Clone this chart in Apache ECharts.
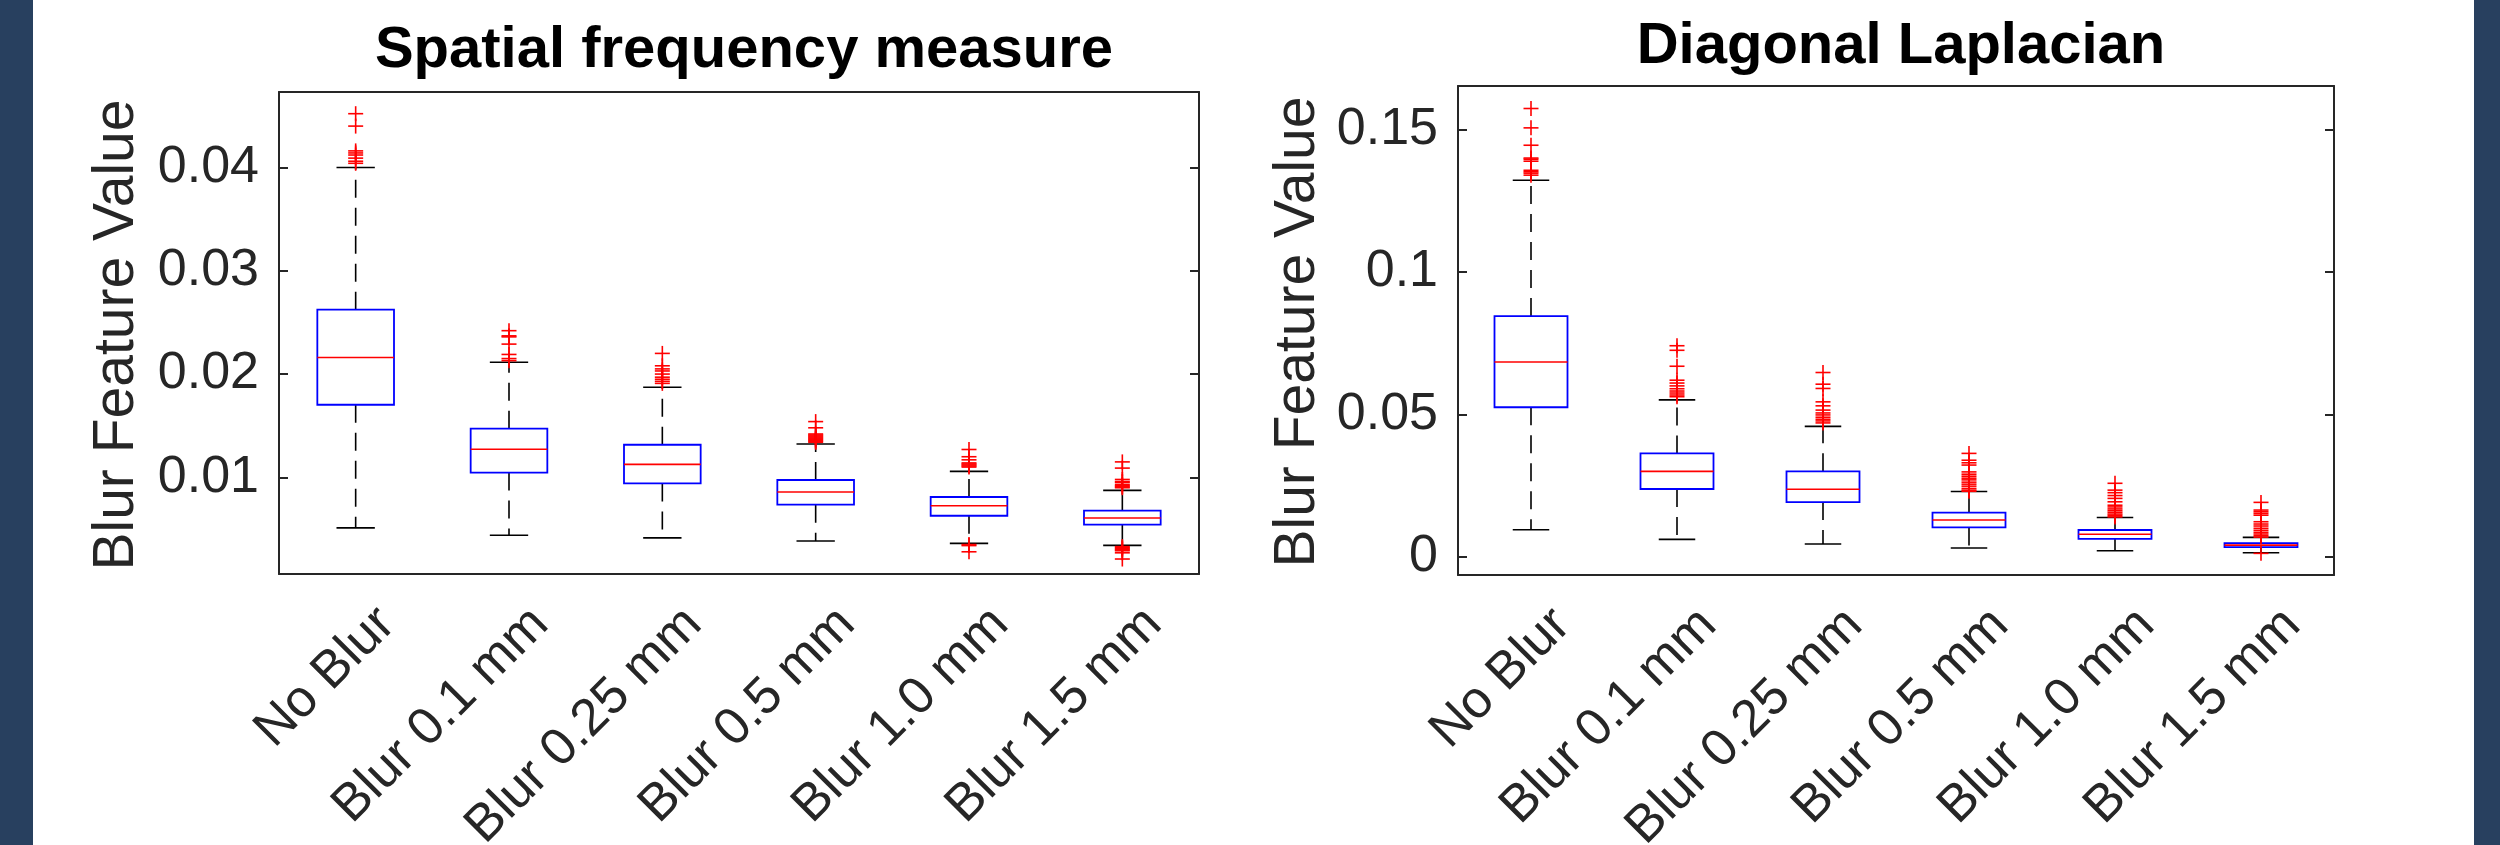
<!DOCTYPE html>
<html>
<head>
<meta charset="utf-8">
<title>Blur feature boxplots</title>
<style>
  html, body { margin: 0; padding: 0; background: #fff; }
  #main { width: 2500px; height: 845px; }
</style>
</head>
<body>
<div id="main"></div>
<script src="https://cdn.jsdelivr.net/npm/echarts@6/dist/echarts.min.js"></script>
<script>
var categories = ['No Blur', 'Blur 0.1 mm', 'Blur 0.25 mm', 'Blur 0.5 mm', 'Blur 1.0 mm', 'Blur 1.5 mm'];

// Spatial frequency measure: whisker ends, quartiles, medians
var sfmLow    = [0.00511, 0.00440, 0.00415, 0.00384, 0.00361, 0.00342];
var sfmQ1     = [0.01703, 0.01047, 0.00942, 0.00736, 0.00629, 0.00542];
var sfmMedian = [0.02161, 0.01272, 0.01126, 0.00859, 0.00726, 0.00607];
var sfmQ3     = [0.02623, 0.01472, 0.01316, 0.00975, 0.00810, 0.00678];
var sfmHigh   = [0.04000, 0.02114, 0.01873, 0.01323, 0.01058, 0.00874];
var sfmOutliers = [
  [0.0452, 0.0440, 0.0416, 0.0414, 0.0412, 0.0409, 0.0406, 0.0404],
  [0.0242, 0.0237, 0.0236, 0.0229, 0.0219, 0.0215, 0.0213],
  [0.0220, 0.0208, 0.0205, 0.0203, 0.0200, 0.0197, 0.0195, 0.0193, 0.0191],
  [0.0154, 0.0148, 0.0142, 0.0141, 0.0140, 0.0139, 0.0138, 0.0137, 0.0136, 0.0135, 0.0134],
  [0.0127, 0.0120, 0.0117, 0.0114, 0.0113, 0.0112, 0.0111, 0.0110, 0.0035, 0.0034, 0.0028],
  [0.0115, 0.0109, 0.0098, 0.0096, 0.0095, 0.0093, 0.0092, 0.0091, 0.0090,
   0.0033, 0.0032, 0.0031, 0.0030, 0.0029, 0.0027, 0.0021]
];

// Diagonal Laplacian
var dlLow    = [0.0095, 0.0061, 0.0045, 0.0031, 0.0021, 0.0014];
var dlQ1     = [0.0525, 0.0238, 0.0192, 0.0103, 0.0063, 0.0034];
var dlMedian = [0.0684, 0.0300, 0.0237, 0.0129, 0.0079, 0.0041];
var dlQ3     = [0.0845, 0.0363, 0.0300, 0.0155, 0.0094, 0.0048];
var dlHigh   = [0.1322, 0.0551, 0.0458, 0.0229, 0.0138, 0.0068];
var dlOutliers = [
  [0.1574, 0.1506, 0.1445, 0.1400, 0.1396, 0.1389, 0.1357, 0.1352, 0.1347, 0.1340],
  [0.0741, 0.0725, 0.0669, 0.0620, 0.0610, 0.0600, 0.0590, 0.0582, 0.0575, 0.0568, 0.0562],
  [0.0647, 0.0606, 0.0591, 0.0544, 0.0530, 0.0515, 0.0505, 0.0498, 0.0490, 0.0483, 0.0477, 0.0470],
  [0.0363, 0.0339, 0.0330, 0.0322, 0.0298, 0.0290, 0.0283, 0.0276, 0.0270, 0.0262, 0.0255,
   0.0248, 0.0240, 0.0234, 0.0230],
  [0.0258, 0.0234, 0.0225, 0.0215, 0.0205, 0.0193, 0.0181, 0.0175, 0.0168, 0.0162, 0.0156,
   0.0150, 0.0145, 0.0140],
  [0.0191, 0.0164, 0.0158, 0.0152, 0.0146, 0.0123, 0.0115, 0.0108, 0.0100, 0.0093, 0.0086,
   0.0080, 0.0074, 0.0069, 0.0012]
];

var FONT = "'Liberation Sans', Arial, Helvetica, sans-serif";
var AXIS_COLOR = '#262626';

function boxRows(low, q1, med, q3, high) {
  return categories.map(function (c, i) { return [i, low[i], q1[i], med[i], q3[i], high[i]]; });
}

function outlierRows(list) {
  var rows = [];
  list.forEach(function (vals, i) {
    vals.forEach(function (v) { rows.push([i, v]); });
  });
  return rows;
}

// matlab style box: blue box, red median, dashed black whiskers
function renderBox(params, api) {
  var i = api.value(0);
  var pLow = api.coord([i, api.value(1)]);
  var pQ1 = api.coord([i, api.value(2)]);
  var pMed = api.coord([i, api.value(3)]);
  var pQ3 = api.coord([i, api.value(4)]);
  var pHigh = api.coord([i, api.value(5)]);
  var band = api.size([1, 0])[0];
  var cx = pMed[0];
  var half = band * 0.25;
  var cap = band * 0.125;
  var dash = { stroke: '#000', lineWidth: 1.6, lineDash: [18, 10] };
  var solid = { stroke: '#000', lineWidth: 1.6 };
  return {
    type: 'group',
    children: [
      { type: 'line', shape: { x1: cx, y1: pQ3[1], x2: cx, y2: pHigh[1] }, style: dash },
      { type: 'line', shape: { x1: cx, y1: pQ1[1], x2: cx, y2: pLow[1] }, style: dash },
      { type: 'line', shape: { x1: cx - cap, y1: pHigh[1], x2: cx + cap, y2: pHigh[1] }, style: solid },
      { type: 'line', shape: { x1: cx - cap, y1: pLow[1], x2: cx + cap, y2: pLow[1] }, style: solid },
      { type: 'rect', shape: { x: cx - half, y: pQ3[1], width: half * 2, height: pQ1[1] - pQ3[1] },
        style: { fill: 'none', stroke: '#0000ff', lineWidth: 1.8 } },
      { type: 'line', shape: { x1: cx - half, y1: pMed[1], x2: cx + half, y2: pMed[1] },
        style: { stroke: '#ff0000', lineWidth: 1.6 } }
    ]
  };
}

// red "+" markers
function renderPlus(params, api) {
  var p = api.coord([api.value(0), api.value(1)]);
  var r = 7.5;
  var st = { stroke: '#ff0000', lineWidth: 1.6 };
  return {
    type: 'group',
    children: [
      { type: 'line', shape: { x1: p[0] - r, y1: p[1], x2: p[0] + r, y2: p[1] }, style: st },
      { type: 'line', shape: { x1: p[0], y1: p[1] - r, x2: p[0], y2: p[1] + r }, style: st }
    ]
  };
}

function tickFmt(v) { return String(parseFloat(v.toFixed(4))); }

function xAxes(grid) {
  return [
    {
      type: 'category', data: categories, gridIndex: grid, position: 'bottom',
      axisLine: { onZero: false, lineStyle: { color: AXIS_COLOR, width: 2 } },
      axisTick: { inside: true, length: 9, alignWithLabel: true, lineStyle: { color: AXIS_COLOR, width: 2 } },
      axisLabel: {
        interval: 0, rotate: 45, margin: 11, align: 'right', verticalAlign: 'top', lineHeight: 88,
        fontFamily: FONT, fontSize: 52, color: AXIS_COLOR
      },
      splitLine: { show: false }
    },
    {
      type: 'category', data: categories, gridIndex: grid, position: 'top',
      axisLine: { onZero: false, lineStyle: { color: AXIS_COLOR, width: 2 } },
      axisTick: { inside: true, length: 9, alignWithLabel: true, lineStyle: { color: AXIS_COLOR, width: 2 } },
      axisLabel: { show: false },
      splitLine: { show: false }
    }
  ];
}

function yAxes(grid, min, max) {
  return [
    {
      type: 'value', gridIndex: grid, position: 'left', min: min, max: max, splitNumber: 4,
      axisLine: { show: true, onZero: false, lineStyle: { color: AXIS_COLOR, width: 2 } },
      axisTick: { show: true, inside: true, length: 9, lineStyle: { color: AXIS_COLOR, width: 2 } },
      axisLabel: {
        margin: 20, fontFamily: FONT, fontSize: 52, color: AXIS_COLOR,
        showMinLabel: false, showMaxLabel: false, formatter: tickFmt
      },
      splitLine: { show: false }
    },
    {
      type: 'value', gridIndex: grid, position: 'right', min: min, max: max, splitNumber: 4,
      axisLine: { show: true, onZero: false, lineStyle: { color: AXIS_COLOR, width: 2 } },
      axisTick: { show: true, inside: true, length: 9, lineStyle: { color: AXIS_COLOR, width: 2 } },
      axisLabel: { show: false },
      splitLine: { show: false }
    }
  ];
}

var chart = echarts.init(document.getElementById('main'));

var option = {
  backgroundColor: '#ffffff',
  animation: false,
  title: [
    {
      text: 'Spatial frequency measure', left: 739, top: 17, textAlign: 'center',
      textStyle: { fontFamily: FONT, fontSize: 58, fontWeight: 'bold', color: '#000' }
    },
    {
      text: 'Diagonal Laplacian', left: 1896, top: 13, textAlign: 'center',
      textStyle: { fontFamily: FONT, fontSize: 58, fontWeight: 'bold', color: '#000' }
    }
  ],
  // fixed plot boxes, no automatic shrinking for the long rotated labels
  grid: [
    { left: 279, top: 92, width: 920, height: 482, outerBoundsMode: 'none', containLabel: false },
    { left: 1458, top: 86, width: 876, height: 489, outerBoundsMode: 'none', containLabel: false }
  ],
  xAxis: xAxes(0).concat(xAxes(1)),
  yAxis: yAxes(0, 0.00065, 0.0473).concat(yAxes(1, -0.0064, 0.1653)),
  graphic: [
    { type: 'rect', shape: { x: 0, y: 0, width: 33, height: 845 }, style: { fill: '#28405f' } },
    { type: 'rect', shape: { x: 2474, y: 0, width: 26, height: 845 }, style: { fill: '#28405f' } },
    {
      type: 'text', x: 117, y: 335, rotation: Math.PI / 2,
      style: {
        text: 'Blur Feature Value', fontFamily: FONT, fontSize: 57, fill: AXIS_COLOR,
        align: 'center', verticalAlign: 'middle', textAlign: 'center', textVerticalAlign: 'middle'
      }
    },
    {
      type: 'text', x: 1298, y: 332, rotation: Math.PI / 2,
      style: {
        text: 'Blur Feature Value', fontFamily: FONT, fontSize: 57, fill: AXIS_COLOR,
        align: 'center', verticalAlign: 'middle', textAlign: 'center', textVerticalAlign: 'middle'
      }
    }
  ],
  series: [
    {
      type: 'custom', name: 'sfm boxes', xAxisIndex: 0, yAxisIndex: 0,
      renderItem: renderBox, encode: { x: 0, y: [1, 2, 3, 4, 5] },
      data: boxRows(sfmLow, sfmQ1, sfmMedian, sfmQ3, sfmHigh)
    },
    {
      type: 'custom', name: 'sfm outliers', xAxisIndex: 0, yAxisIndex: 0,
      renderItem: renderPlus, encode: { x: 0, y: 1 },
      data: outlierRows(sfmOutliers)
    },
    {
      type: 'custom', name: 'dl boxes', xAxisIndex: 2, yAxisIndex: 2,
      renderItem: renderBox, encode: { x: 0, y: [1, 2, 3, 4, 5] },
      data: boxRows(dlLow, dlQ1, dlMedian, dlQ3, dlHigh)
    },
    {
      type: 'custom', name: 'dl outliers', xAxisIndex: 2, yAxisIndex: 2,
      renderItem: renderPlus, encode: { x: 0, y: 1 },
      data: outlierRows(dlOutliers)
    }
  ]
};

chart.setOption(option);
</script>
</body>
</html>
